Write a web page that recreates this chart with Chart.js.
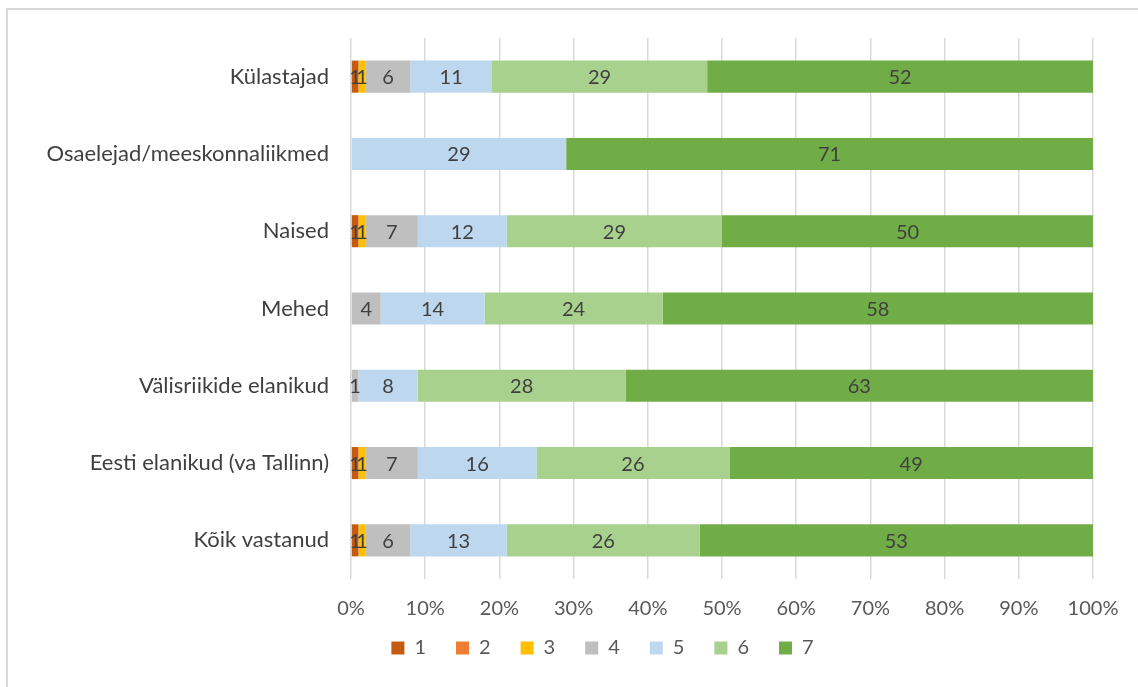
<!DOCTYPE html>
<html>
<head>
<meta charset="utf-8">
<script src="https://cdn.jsdelivr.net/npm/chart.js@4/dist/chart.umd.min.js"></script>
<style>
html,body{margin:0;padding:0;background:#fff;}
#wrap{position:relative;width:1138px;height:687px;}
#frame{position:absolute;left:6px;top:8px;right:-10px;bottom:-10px;border-top:2px solid #d9d9d9;border-left:2px solid #d9d9d9;}
canvas{position:absolute;left:0;top:0;}
</style>
</head>
<body>
<div id="wrap"><div id="frame"></div><canvas id="c" width="1138" height="687"></canvas></div>
<script>
const categories = ["Külastajad","Osaelejad/meeskonnaliikmed","Naised","Mehed","Välisriikide elanikud","Eesti elanikud (va Tallinn)","Kõik vastanud"];
const seriesNames = ["1","2","3","4","5","6","7"];
const s1 = [1,0,1,0,0,1,1];
const s2 = [0,0,0,0,0,0,0];
const s3 = [1,0,1,0,0,1,1];
const s4 = [6,0,7,4,1,7,6];
const s5 = [11,29,12,14,8,16,13];
const s6 = [29,0,29,24,28,26,26];
const s7 = [52,71,50,58,63,49,53];
const xTicks = ["0%","10%","20%","30%","40%","50%","60%","70%","80%","90%","100%"];
const colors = ["#C55A11","#ED7D31","#FFC000","#BFBFBF","#BDD7EE","#A9D18E","#70AD47"];

const allSeries = [s1,s2,s3,s4,s5,s6,s7];
const FONT = "Lato, 'Liberation Sans', sans-serif";

const labelPlugin = {
  id: 'barLabels',
  afterDatasetsDraw(chart) {
    const ctx = chart.ctx;
    ctx.save();
    ctx.font = "20px " + FONT;
    ctx.fillStyle = "#404040";
    ctx.textAlign = "center";
    ctx.textBaseline = "middle";
    chart.data.datasets.forEach((ds, i) => {
      const meta = chart.getDatasetMeta(i);
      meta.data.forEach((bar, j) => {
        const v = ds.data[j];
        if (!v) return;
        const cx = (bar.x + bar.base) / 2;
        ctx.fillText(String(v), cx, bar.y + 1);
      });
    });
    ctx.restore();
  }
};

const AREA_BOTTOM = 579;
const legendShift = {
  id: 'legendShift',
  afterLayout(chart) {
    const lg = chart.legend;
    const dx = 46;
    const dy = (AREA_BOTTOM + 29) - lg.top;
    lg.left += dx; lg.right += dx;
    lg.top += dy; lg.bottom += dy;
  }
};

new Chart(document.getElementById('c'), {
  type: 'bar',
  data: {
    labels: categories,
    datasets: allSeries.map((d, i) => ({
      label: seriesNames[i],
      data: d,
      backgroundColor: colors[i],
      borderWidth: 0,
      barPercentage: 0.415,
      categoryPercentage: 1.0
    }))
  },
  options: {
    indexAxis: 'y',
    responsive: false,
    animation: false,
    devicePixelRatio: 1,
    layout: { padding: { left: 20, right: 45, top: 38, bottom: 0 } },
    plugins: {
      tooltip: { enabled: false },
      legend: {
        position: 'bottom',
        labels: {
          boxWidth: 13, boxHeight: 13, padding: 30,
          color: "#595959",
          font: { size: 20, family: FONT }
        }
      }
    },
    scales: {
      x: {
        stacked: true,
        min: 0, max: 100,
        afterFit(s) { s.height = 108 - s.chart.legend.height; },
        border: { display: false },
        grid: { color: "#d9d9d9", lineWidth: 1.5, drawTicks: false },
        ticks: {
          stepSize: 10,
          padding: 18,
          color: "#595959",
          font: { size: 20, family: FONT },
          callback: (v, idx) => xTicks[idx]
        }
      },
      y: {
        stacked: true,
        afterFit(s) { s.width = 331; },
        border: { display: false },
        grid: { display: false, drawTicks: false },
        ticks: {
          padding: 22,
          color: "#404040",
          font: { size: 22, family: FONT }
        }
      }
    }
  },
  plugins: [labelPlugin, legendShift]
});
</script>
</body>
</html>
